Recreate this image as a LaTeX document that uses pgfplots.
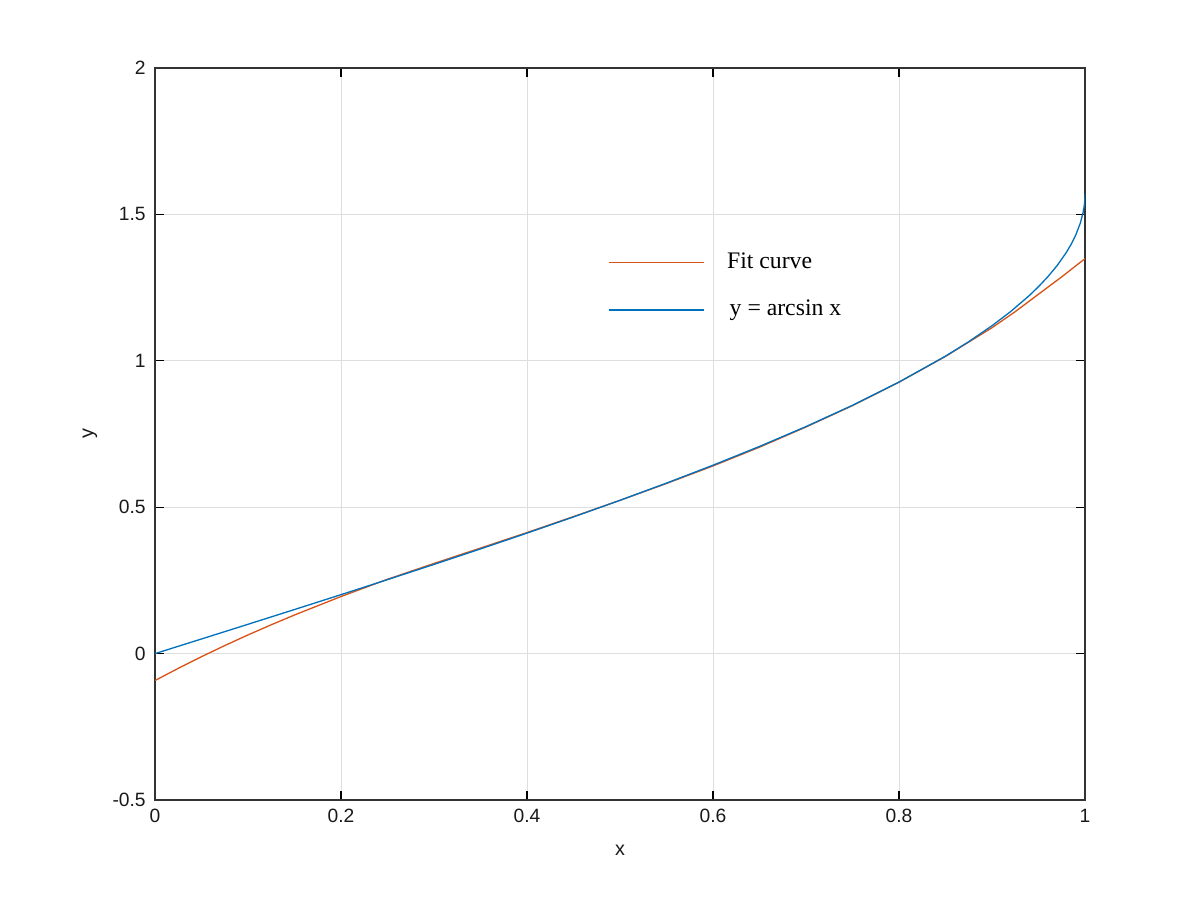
\documentclass[border=0pt]{standalone}
\usepackage{fontspec}
\setmainfont{Liberation Sans}
\newfontfamily\seriffont{Liberation Serif}
\usepackage{pgfplots}
\pgfplotsset{compat=1.18}
\definecolor{mblue}{rgb}{0,0.447,0.741}
\definecolor{morange}{rgb}{0.85,0.325,0.098}
\begin{document}
\begin{tikzpicture}
\useasboundingbox (-2.0667cm,-1.3333cm) rectangle (13.9333cm,10.6667cm);
\begin{axis}[at={(0,0)}, anchor=south west, scale only axis,
  width=12.4cm, height=9.76cm,
  xmin=0, xmax=1, ymin=-0.5, ymax=2,
  xtick={0,0.2,0.4,0.6,0.8,1}, xticklabels={0,0.2,0.4,0.6,0.8,1},
  ytick={-0.5,0,0.5,1,1.5,2}, yticklabels={-0.5,0,0.5,1,1.5,2},
  tick align=inside, major tick length=0.12cm,
  tick style={black, line width=0.4pt},
  grid=major, grid style={black!13, line width=0.3pt},
  axis line style={black!80, line width=0.6pt},
  ticklabel style={font=\fontsize{7.3}{8}\selectfont, text=black!90},
  xlabel={x}, ylabel={y},
  label style={font=\fontsize{7.5}{9}\selectfont, text=black!90},
  xlabel style={at={(axis description cs:0.5,-0.068)}, anchor=center},
  ylabel style={at={(axis description cs:-0.07,0.5)}, anchor=center},
  legend style={at={(rel axis cs:0.478,0.763)}, anchor=north west, draw=none, fill=none,
    font=\seriffont\fontsize{9}{10}\selectfont, row sep=0.23cm},
  legend cell align=left,
  legend image code/.code={\draw[#1] (0cm,0cm) -- (1.27cm,0cm); \path (1.5cm,0cm);},
]
\addplot[morange, line width=0.5pt] coordinates {
(0,-0.092) (0.025,-0.0503) (0.05,-0.0105) (0.075,0.0275) (0.1,0.0638) (0.125,0.0985) (0.15,0.1319)
(0.2,0.1950) (0.25,0.2539) (0.3,0.3080) (0.35,0.3605) (0.4,0.4135) (0.45,0.4680) (0.5,0.5235)
(0.55,0.5810) (0.6,0.6410) (0.65,0.7050) (0.7,0.7740) (0.75,0.8470) (0.8,0.9270) (0.85,1.0150)
(0.9,1.1130) (0.925,1.1680) (0.95,1.2276) (0.975,1.2868) (1,1.349)
};
\addlegendentry{Fit curve}
\addplot[mblue, line width=0.5pt] coordinates {
(0,0) (0.05,0.05002) (0.1,0.10017) (0.15,0.15057) (0.2,0.20136) (0.25,0.25268) (0.3,0.30469)
(0.35,0.35757) (0.4,0.41152) (0.45,0.46677) (0.5,0.52360) (0.55,0.58236) (0.6,0.64350)
(0.65,0.70758) (0.7,0.77540) (0.75,0.84806) (0.8,0.92730) (0.85,1.01599) (0.875,1.06544)
(0.9,1.11977) (0.92,1.16808) (0.94,1.22263) (0.95,1.25324) (0.96,1.28700) (0.97,1.32523)
(0.98,1.37046) (0.985,1.39738) (0.99,1.42926) (0.995,1.47076) (0.998,1.50754)
(0.999,1.52607) (0.9995,1.53917) (0.9999,1.55665) (1,1.570796)
};
\addlegendentry{\kern1pt y = arcsin x}
\end{axis}
\end{tikzpicture}
\end{document}
